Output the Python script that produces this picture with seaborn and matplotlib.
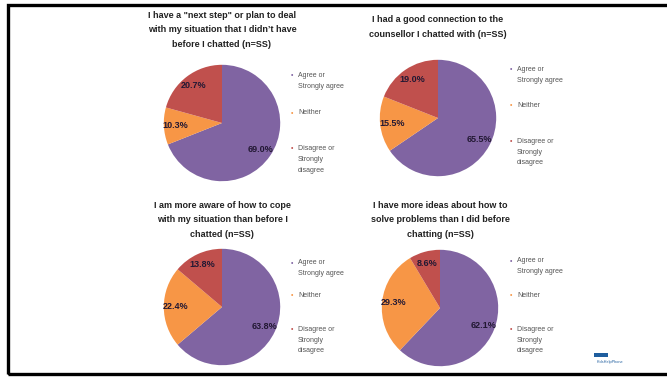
import matplotlib
matplotlib.use("Agg")
import matplotlib.pyplot as plt
from matplotlib.patches import Rectangle
import seaborn as sns

sns.set_style("white")
plt.rcParams['font.family'] = ['Liberation Sans', 'DejaVu Sans']

categories = ["Agree or\nStrongly agree", "Neither", "Disagree or\nStrongly\ndisagree"]
colors = ["#8064A2", "#F79646", "#C0504D"]
titles = [
    'I have a "next step" or plan to deal\nwith my situation that I didn\u2019t have\nbefore I chatted (n=SS)',
    "I had a good connection to the\ncounsellor I chatted with (n=SS)",
    "I am more aware of how to cope\nwith my situation than before I\nchatted (n=SS)",
    "I have more ideas about how to\nsolve problems than I did before\nchatting (n=SS)",
]
values_q1 = [69.0, 10.3, 20.7]
values_q2 = [65.5, 15.5, 19.0]
values_q3 = [63.8, 22.4, 13.8]
values_q4 = [62.1, 29.3, 8.6]
all_values = [values_q1, values_q2, values_q3, values_q4]

W, H = 667, 377
fig = plt.figure(figsize=(W / 100, H / 100), dpi=100)

def fx(x):
    return x / W

def fy(y):
    return 1 - y / H

# layout (pixel coords)
pie_centers = [(222, 123), (438, 118), (222, 307), (440, 308)]
pie_r = 60
title_pos = [(222, 30), (438, 27), (222, 220), (440, 220)]
legend_x = [292, 511, 292, 511]
legend_y = [
    [76, 113, 149],
    [70, 106, 142],
    [263, 296, 330],
    [261, 296, 330],
]

for i in range(4):
    cx, cy = pie_centers[i]
    ax = fig.add_axes([fx(cx - pie_r), fy(cy + pie_r), 2 * pie_r / W, 2 * pie_r / H])
    vals = all_values[i]
    wedges, texts, autotexts = ax.pie(
        vals, colors=colors, startangle=90, counterclock=False,
        autopct=lambda p: f"{p:.1f}%", pctdistance=0.8, radius=0.97,
        wedgeprops=dict(linewidth=0),
        textprops=dict(fontsize=6.5, fontweight="bold", color="#221833"),
    )
    ax.set_xlim(-1, 1)
    ax.set_ylim(-1, 1)
    ax.set_aspect("equal")
    ax.axis("off")

    tx, ty = title_pos[i]
    fig.text(fx(tx), fy(ty), titles[i], ha="center", va="center",
             fontsize=6.5, fontweight="bold", color="#222222", linespacing=1.75)

    lx = legend_x[i]
    for j, cat in enumerate(categories):
        y = legend_y[i][j]
        fig.text(fx(lx), fy(y), "\u2022", ha="center", va="center",
                 fontsize=5, color=colors[j])
        fig.text(fx(lx + 6), fy(y - 4), cat, ha="left", va="top",
                 fontsize=5, color="#555555", linespacing=1.75)

# frame
fig.patches.append(Rectangle((fx(7.5), fy(374)), 1.0, fy(4.5) - fy(374),
                             transform=fig.transFigure, fill=False,
                             edgecolor="black", linewidth=2.4, clip_on=False))

# logo
fig.patches.append(Rectangle((fx(594), fy(357)), 14 / W, 4 / H,
                             transform=fig.transFigure, facecolor="#1F5E9E",
                             edgecolor="none"))
fig.text(fx(597), fy(362), "KidsHelpPhone", ha="left", va="center",
         fontsize=2.8, color="#1F5E9E")

fig.savefig("out.png", dpi=100)
